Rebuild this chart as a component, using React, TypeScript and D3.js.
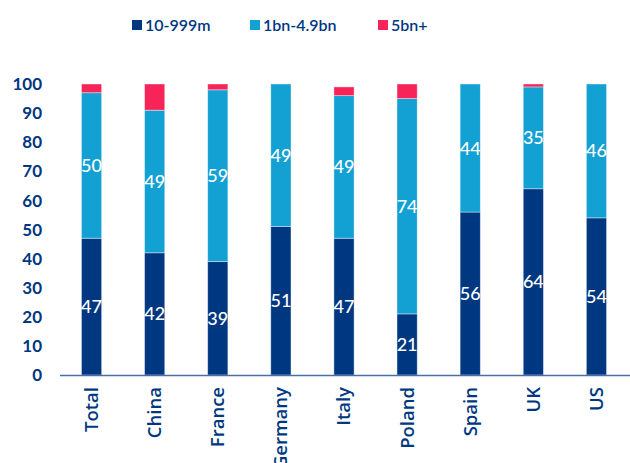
import React, { useEffect, useRef } from "react";
import * as d3 from "d3";

const categories = ["Total", "China", "France", "Germany", "Italy", "Poland", "Spain", "UK", "US"];
const seriesNames = ["10-999m", "1bn-4.9bn", "5bn+"];
const small = [47, 42, 39, 51, 47, 21, 56, 64, 54];
const mid = [50, 49, 59, 49, 49, 74, 44, 35, 46];
const large = [3, 9, 2, 0, 3, 5, 0, 1, 0];
const yTicks = [0, 10, 20, 30, 40, 50, 60, 70, 80, 90, 100];

const COLORS = ["#003781", "#13A0D3", "#F62459"];
const TEXT = "#003781";
const FONT = "Lato, 'Open Sans', sans-serif";
const WIDE = "'Open Sans', Lato, sans-serif";

export default function App() {
  const ref = useRef<SVGSVGElement>(null);

  useEffect(() => {
    if (!ref.current) return;
    const svg = d3.select(ref.current);
    svg.selectAll("*").remove();

    const x = d3.scaleBand().domain(categories).range([60, 628]).paddingInner(0.68).paddingOuter(0.34);
    const y = d3.scaleLinear().domain([0, 100]).range([375, 84]);

    const rows = categories.map((c, i) => ({ cat: c, a: small[i], b: mid[i], c: large[i] }));
    const stack = d3.stack<any>().keys(["a", "b", "c"])(rows);

    // legend
    const legendX = [132, 250, 378];
    const lg = svg.append("g");
    seriesNames.forEach((n, i) => {
      lg.append("rect").attr("x", legendX[i]).attr("y", 20).attr("width", 10).attr("height", 10).attr("fill", COLORS[i]);
      lg.append("text").attr("x", legendX[i] + 13).attr("y", 30.5)
        .attr("font-family", FONT).attr("font-size", 16).attr("font-weight", 600)
        .attr("fill", TEXT).text(n);
    });

    // y tick labels
    svg.append("g").selectAll("text").data(yTicks).enter().append("text")
      .attr("x", 42).attr("y", (d) => y(d)).attr("dy", "0.36em")
      .attr("text-anchor", "end").attr("font-family", FONT).attr("font-size", 17).attr("font-weight", 700)
      .attr("fill", TEXT).text((d) => d);

    // bars
    const g = svg.append("g");
    stack.forEach((s, si) => {
      g.selectAll(`rect.s${si}`).data(s).enter().append("rect")
        .attr("class", `s${si}`)
        .attr("x", (d: any) => x(d.data.cat)!)
        .attr("width", x.bandwidth())
        .attr("y", (d) => y(d[1]))
        .attr("height", (d) => Math.max(0, y(d[0]) - y(d[1])))
        .attr("fill", COLORS[si])
        .attr("stroke", "#ffffff").attr("stroke-opacity", 0.5).attr("stroke-width", (d) => (d[1] - d[0] > 0 ? 0.8 : 0));
    });

    // value labels for first two series
    stack.slice(0, 2).forEach((s) => {
      g.selectAll(null).data(s).enter().append("text")
        .attr("x", (d: any) => x(d.data.cat)! + x.bandwidth() / 2)
        .attr("y", (d) => y((d[0] + d[1]) / 2))
        .attr("dy", "0.36em").attr("text-anchor", "middle")
        .attr("font-family", FONT).attr("font-size", 18).attr("font-weight", 500).attr("fill", "#ffffff")
        .text((d) => d[1] - d[0]);
    });

    // x axis line
    svg.append("line").attr("x1", 60).attr("x2", 630).attr("y1", 375.5).attr("y2", 375.5)
      .attr("stroke", "#4A6FA5").attr("stroke-width", 1.5);

    // category labels
    svg.append("g").selectAll("text").data(categories).enter().append("text")
      .attr("transform", (d) => `translate(${x(d)! + x.bandwidth() / 2},387) rotate(-90)`)
      .attr("text-anchor", "end").attr("dy", "0.35em")
      .attr("font-family", WIDE).attr("font-size", 18.5).attr("font-weight", 600)
      .attr("fill", TEXT).text((d) => d);
  }, []);

  return (
    <svg ref={ref} width={630} height={463} style={{ position: "absolute", left: 0, top: 0, background: "#fff" }} />
  );
}
